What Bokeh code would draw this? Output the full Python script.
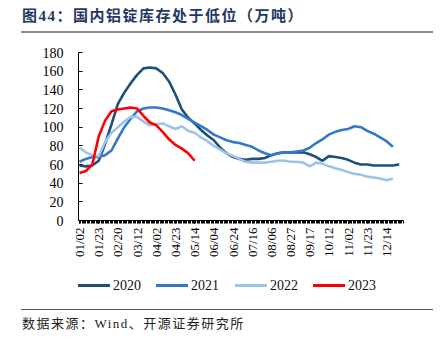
from bokeh.plotting import figure
from bokeh.models import Range1d, FixedTicker, Div
from bokeh.layouts import column
from bokeh.embed import file_html
from bokeh.resources import INLINE
import math

# ---- data (weekly samples of the trading-day series, step = 5 trading days) ----
step = 5
tick_labels = ["01/02", "01/23", "02/20", "03/12", "04/02", "04/23", "05/14", "06/04",
               "06/24", "07/16", "08/06", "08/27", "09/17", "10/12", "11/02", "11/23", "12/14"]
tick_every = 15

y2020 = [59, 58, 59, 64, 82, 103, 125, 137, 147, 156, 163, 164, 163, 158, 149, 135, 119,
         110, 104, 97, 91, 86, 78, 72, 68, 66, 65, 66, 66, 67, 70, 72, 73, 73, 73, 73, 71,
         68, 64, 69, 68, 67, 65, 62, 60, 60, 59, 59, 59, 59, 60]
y2021 = [63, 66, 68, 68, 70, 75, 88, 100, 109, 117, 120, 121, 121, 120, 118, 116, 113,
         109, 105, 101, 97, 92, 89, 86, 84, 83, 81, 79, 75, 72, 70, 72, 73, 73, 74, 75, 78,
         83, 87, 92, 95, 97, 98, 101, 100, 96, 93, 89, 85, 79]
y2022 = [78, 73, 70, 69, 84, 94, 100, 106, 111, 111, 106, 102, 103, 104, 101, 98, 101,
         96, 94, 89, 85, 80, 76, 72, 69, 66, 63, 62, 62, 62, 63, 64, 64, 63, 63, 62, 58,
         62, 61, 58, 56, 54, 52, 50, 49, 47, 46, 45, 43, 45]
y2023 = [51, 53, 60, 90, 107, 117, 119, 120, 121, 120, 112, 105, 102, 95, 87, 81, 77, 72, 64]

series = [("2020", y2020, "#1F4E79"), ("2021", y2021, "#3478C8"),
          ("2022", y2022, "#9DC3E6"), ("2023", y2023, "#FF0000")]

serif = "Liberation Serif"
font_css = "font-family:'Liberation Serif','Noto Sans CJK SC';"

title_div = Div(
    text=('<div style="position:relative;width:444px;height:40px;">'
          '<div style="position:absolute;left:22px;top:6px;' + font_css +
          'font-weight:bold;font-size:15px;letter-spacing:1.5px;color:#1F3864;white-space:nowrap;">'
          '图44：国内铝锭库存处于低位（万吨）</div>'
          '<div style="position:absolute;left:21px;top:31px;width:412px;height:2px;background:#8C8C8C;"></div>'
          '</div>'),
    width=444, height=40, margin=(0, 0, 0, 0))

p = figure(frame_width=325, frame_height=168, output_backend="svg", toolbar_location=None,
           min_border_top=12, min_border_left=78, min_border_right=41, min_border_bottom=45,
           x_range=Range1d(-0.8, 253.3), y_range=Range1d(0, 180),
           outline_line_color=None, background_fill_color="white", border_fill_color="white")
p.grid.visible = False

for name, ys, col in series:
    xs = [i * step for i in range(len(ys))]
    p.line(xs, ys, line_color=col, line_width=2.6)

# x axis
ticks = [i * tick_every for i in range(len(tick_labels))]
p.xaxis.ticker = FixedTicker(ticks=ticks, minor_ticks=list(range(0, 254)))
p.xaxis.major_label_overrides = {t: l for t, l in zip(ticks, tick_labels)}
p.xaxis.major_label_orientation = math.pi / 2
p.xaxis.major_tick_in = 0
p.xaxis.major_tick_out = 3
p.xaxis.minor_tick_in = 0
p.xaxis.minor_tick_out = 3
p.xaxis.major_label_standoff = 4
p.xaxis.major_label_text_font = serif
p.xaxis.major_label_text_font_size = "13px"
p.xaxis.major_label_text_color = "black"
p.xaxis.axis_line_color = "black"
p.xaxis.major_tick_line_color = "black"
p.xaxis.minor_tick_line_color = "black"

# y axis
p.yaxis.ticker = FixedTicker(ticks=list(range(0, 181, 20)))
p.yaxis.major_tick_in = 4
p.yaxis.major_tick_out = 0
p.yaxis.minor_tick_line_color = None
p.yaxis.major_label_standoff = 15
p.yaxis.major_label_text_font = serif
p.yaxis.major_label_text_font_size = "14px"
p.yaxis.major_label_text_color = "black"
p.yaxis.axis_line_color = "black"

# legend (HTML, horizontal)
leg_parts = ['<div style="position:relative;width:444px;height:40px;">']
for i, (name, ys, col) in enumerate(series):
    left = 78 + round(78.3 * i)
    leg_parts.append('<div style="position:absolute;left:%dpx;top:19px;width:32px;height:3px;background:%s;"></div>'
                     % (left, col))
    leg_parts.append('<div style="position:absolute;left:%dpx;top:11px;%sfont-size:14px;color:#111;white-space:nowrap;">%s</div>'
                     % (left + 35, font_css, name))
leg_parts.append('</div>')
legend_div = Div(text="".join(leg_parts), width=444, height=40, margin=(0, 0, 0, 0))

foot_div = Div(
    text=('<div style="position:relative;width:444px;height:37px;">'
          '<div style="position:absolute;left:21px;top:4px;width:412px;height:1px;background:#555555;"></div>'
          '<div style="position:absolute;left:22px;top:10px;' + font_css +
          'font-size:13px;letter-spacing:1.5px;color:#222222;white-space:nowrap;">'
          '数据来源：Wind、开源证券研究所</div>'
          '</div>'),
    width=444, height=37, margin=(0, 0, 0, 0))

layout = column(title_div, p, legend_div, foot_div, spacing=0)
open("out.html", "w").write(file_html(layout, INLINE))
